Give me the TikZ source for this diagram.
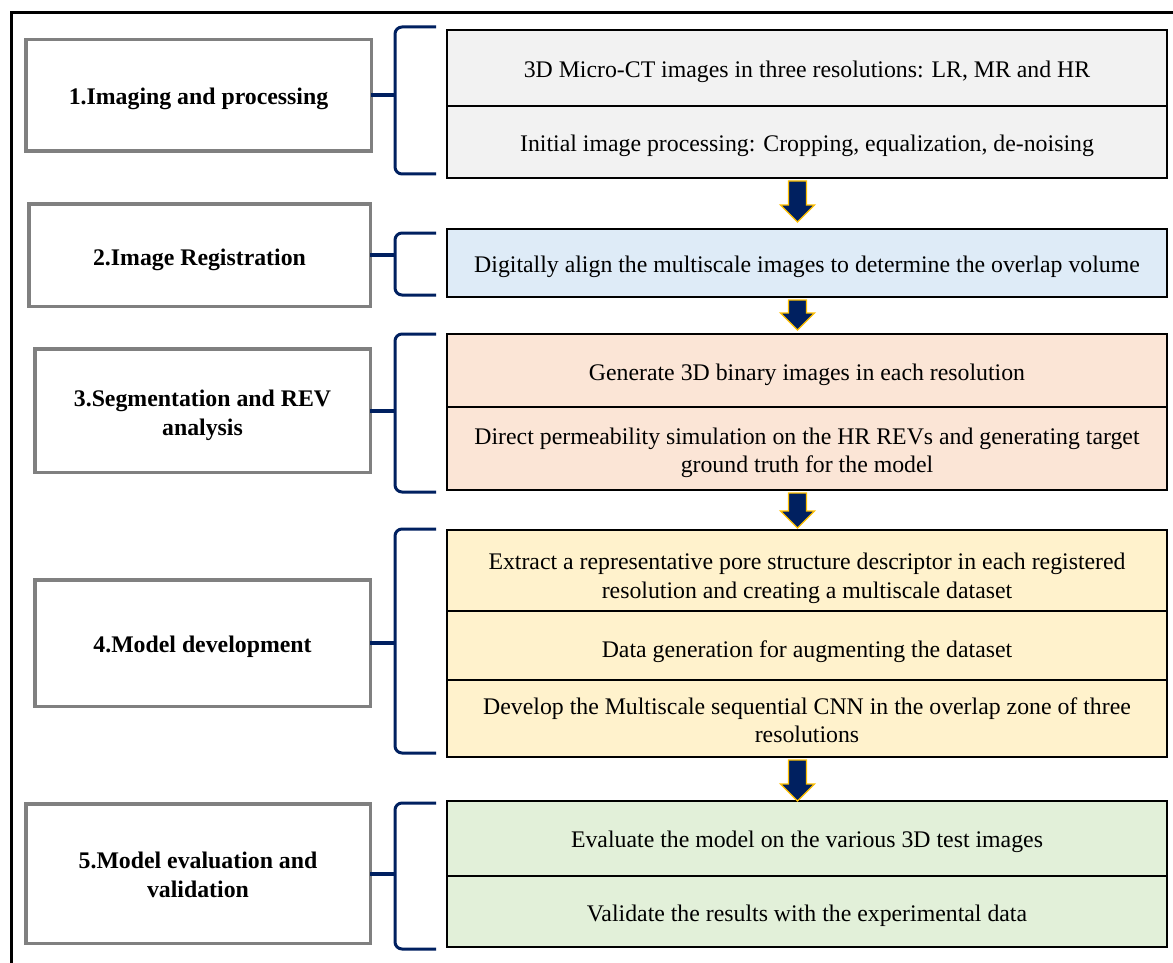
\documentclass[tikz,border=0pt]{standalone}
\usepackage{fontspec}
\setmainfont{Liberation Serif}
\usetikzlibrary{calc}
\definecolor{navy}{HTML}{002060}
\definecolor{gold}{HTML}{FFC000}
\definecolor{cgray}{HTML}{F2F2F2}
\definecolor{cblue}{HTML}{DEEBF7}
\definecolor{cpeach}{HTML}{FBE5D6}
\definecolor{cyellow}{HTML}{FFF2CC}
\definecolor{cgreen}{HTML}{E2F0D9}
\definecolor{boxgray}{HTML}{808080}
\newcommand{\dn}[1]{\rule{0pt}{\dimexpr16.3pt+#1pt*2\relax}}
\tikzset{
  tdown/.store in=\tdownval, tdown=0,
  lowered/.style={execute at begin node={\rule{0pt}{\dimexpr16.3pt+\tdownval pt*2\relax}}},
  stage/.style={draw=boxgray, line width=3.5pt, fill=white, inner sep=0pt, outer sep=0pt,
    align=center, font=\fontsize{23.8}{29}\selectfont\bfseries, lowered},
  cell/.style={draw=black, line width=2.2pt, inner sep=0pt, outer sep=0pt,
    minimum width=720pt, align=center, font=\fontsize{23.8}{28.5}\selectfont, lowered},
  bracestyle/.style={draw=navy, line width=3pt, rounded corners=7pt},
  linkstyle/.style={draw=navy, line width=4pt},
  bigarrow/.style={fill=navy, draw=gold, line width=1.3pt, line join=miter},
}
\newcommand{\flowarrow}[3]{%
  \path ($(#1.south)+(-9.5,3)$) coordinate (tA) ($(#2.north)+(-9.5,-#3)$) coordinate (tB);
  \filldraw[bigarrow] ($(tA)+(-9,0)$) -- ($(tA)+(9,0)$) -- ($(tB)+(9,-17)$) -- ($(tB)+(17,-17)$)
    -- (tB) -- ($(tB)+(-17,-17)$) -- ($(tB)+(-9,-17)$) -- cycle;}
\newcommand{\bracket}[3]{%
  \coordinate (#1) at (395,#2);
  \draw[bracestyle] (436,#2) -- (395,#2) -- (395,#3) -- (436,#3);}
\begin{document}
\begin{tikzpicture}[x=1pt,y=-1pt]
\useasboundingbox (0,0) rectangle (1173,963);
\fill[white] (0,0) rectangle (1173,963);
% outer frame
\draw[line width=3.5pt] (11.5,975) -- (11.5,12.5) -- (1185,12.5);

% left stage boxes
\node[stage, tdown=3, minimum width=345.5pt, minimum height=111.5pt] (l1) at (198.5,95.5) {1.Imaging and processing};
\node[stage, tdown=5, minimum width=341.5pt, minimum height=102.5pt] (l2) at (199.5,255) {2.Image Registration};
\node[stage, minimum width=335.5pt, minimum height=123.5pt] (l3) at (202.5,410.5) {\dn{4.5}3.Segmentation and REV\\analysis};
\node[stage, tdown=4, minimum width=335.5pt, minimum height=126.5pt] (l4) at (202.5,643) {4.Model development};
\node[stage, minimum width=344.5pt, minimum height=139.5pt] (l5) at (198,873.5) {\dn{1}5.Model evaluation and\\validation};

% right cells
\node[cell, tdown=4, fill=cgray, minimum height=76pt] (r1a) at (807,68) {3D Micro-CT images in three resolutions: LR, MR and HR};
\node[cell, tdown=4, fill=cgray, minimum height=72pt] (r1b) at (807,142) {Initial image processing: Cropping, equalization, de-noising};
\node[cell, tdown=4, fill=cblue, minimum height=68pt] (r2) at (807,263) {Digitally align the multiscale images to determine the overlap volume};
\node[cell, tdown=4, fill=cpeach, minimum height=73pt] (r3a) at (807,370.5) {Generate 3D binary images in each resolution};
\node[cell, fill=cpeach, minimum height=83pt] (r3b) at (807,448.5) {\dn{4.5}Direct permeability simulation on the HR REVs and generating target\\ground truth for the model};
\node[cell, fill=cyellow, minimum height=81pt] (r4a) at (807,570.5) {\dn{8}Extract a representative pore structure descriptor in each registered\\resolution and creating a multiscale dataset};
\node[cell, tdown=6, fill=cyellow, minimum height=69pt] (r4b) at (807,645.5) {Data generation for augmenting the dataset};
\node[cell, fill=cyellow, minimum height=77pt] (r4c) at (807,718.5) {\dn{2}Develop the Multiscale sequential CNN in the overlap zone of three\\resolutions};
\node[cell, tdown=3, fill=cgreen, minimum height=75pt] (r5a) at (807,838.5) {Evaluate the model on the various 3D test images};
\node[cell, tdown=4, fill=cgreen, minimum height=71pt] (r5b) at (807,911.5) {Validate the results with the experimental data};

% braces
\bracket{b1}{27}{174}
\bracket{b2}{233}{295}
\bracket{b3}{334}{492}
\bracket{b4}{529}{753}
\bracket{b5}{803}{949}

% links from stage boxes to braces
\draw[linkstyle] (l1.east) -- (l1.east -| b1);
\draw[linkstyle] (l2.east) -- (l2.east -| b2);
\draw[linkstyle] (l3.east) -- (l3.east -| b3);
\draw[linkstyle] (l4.east) -- (l4.east -| b4);
\draw[linkstyle] (l5.east) -- (l5.east -| b5);

% flow arrows
\flowarrow{r1b}{r2}{7}
\flowarrow{r2}{r3a}{4}
\flowarrow{r3b}{r4a}{2}
\flowarrow{r4c}{r5a}{0}
\end{tikzpicture}
\end{document}
